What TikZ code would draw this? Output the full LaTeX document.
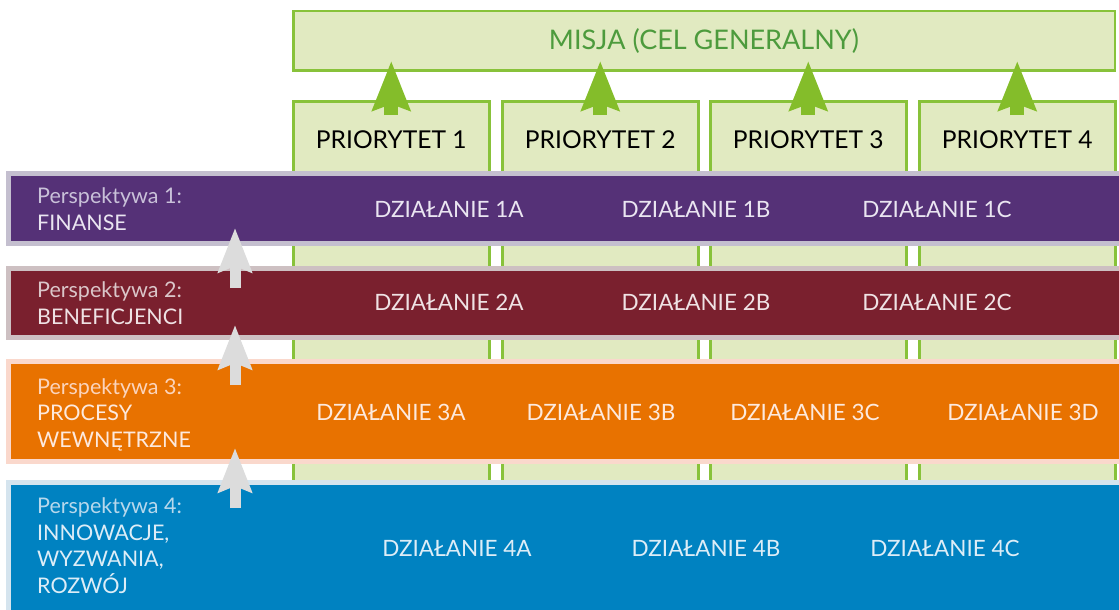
\documentclass[tikz,border=0pt]{standalone}
\usepackage{fontspec}
\setmainfont{Lato}
\usetikzlibrary{arrows.meta,calc}
\definecolor{tlokol}{HTML}{E1EAC1}
\definecolor{ramkakol}{HTML}{88C23A}
\definecolor{strzzielona}{HTML}{84BD2A}
\definecolor{tekstmisja}{HTML}{4D9B3D}
\definecolor{strzszara}{HTML}{DCDCDC}
\definecolor{fiolet}{HTML}{553177}
\definecolor{fioletramka}{HTML}{C4BFCF}
\definecolor{bordo}{HTML}{7A202E}
\definecolor{bordoramka}{HTML}{CDC0C2}
\definecolor{pomarancz}{HTML}{E87200}
\definecolor{pomaranczramka}{HTML}{FAD8CC}
\definecolor{niebieski}{HTML}{0082C1}
\definecolor{niebieskiramka}{HTML}{D5E4EE}
\definecolor{tfiolet}{HTML}{EAE5F1}
\definecolor{tfioletj}{HTML}{C9C1D9}
\definecolor{tbordo}{HTML}{EFE2E4}
\definecolor{tbordoj}{HTML}{DBC6C9}
\definecolor{tpomarancz}{HTML}{FDE9DD}
\definecolor{tpomaranczj}{HTML}{FBD4BC}
\definecolor{tniebieski}{HTML}{DDEDF7}
\definecolor{tniebieskij}{HTML}{B7D8EC}
\tikzset{
  font={\fontsize{22.5pt}{26pt}\selectfont},
  kolumna/.style={draw=ramkakol,line width=2.5pt,fill=tlokol,inner sep=0pt,anchor=north west},
  pas/.style={line width=5pt,inner sep=0pt,anchor=north west,minimum width=1130pt},
  strzalkaz/.style={draw=strzzielona,line width=14pt,-{Stealth[length=49pt,width=37pt,inset=6pt]}},
  strzalkas/.style={draw=strzszara,line width=11pt,-{Stealth[length=44pt,width=33pt,inset=6pt]}},
  priorytet/.style={anchor=base,font={\fontsize{24.6pt}{26pt}\selectfont}},
  dzialanie/.style={anchor=base},
  opis/.style={anchor=base west,align=left,inner sep=0pt,font={\fontsize{21.5pt}{26.5pt}\selectfont}}
}

\begin{document}
\begin{tikzpicture}[x=1pt,y=-1pt]
\useasboundingbox (0,0) rectangle (1119,610);
\clip (0,0) rectangle (1119,610);
\node[kolumna,text=tekstmisja,font={\fontsize{27pt}{30pt}\selectfont},minimum width=821.5pt,minimum height=59.5pt] (misja) at (292,10) {MISJA (CEL GENERALNY)};
\foreach \x/\n in {292/1,501/2,709/3,918/4} {
  \node[kolumna,minimum width=196pt,minimum height=520pt] (p\n) at (\x,100) {};
  \node[priorytet] (p\n t) at ($(p\n.north)+(0,48)$) {PRIORYTET \n};
  \draw[strzalkaz] ($(p\n.north)+(0,15)$) -- ($(p\n.north)+(0,-39)$);
}
\node[pas,draw=fioletramka,fill=fiolet,minimum height=70pt] (b1) at (6,171) {};
\node[pas,draw=bordoramka,fill=bordo,minimum height=69pt] (b2) at (6,266) {};
\node[pas,draw=pomaranczramka,fill=pomarancz,minimum height=100pt] (b3) at (6,359) {};
\node[pas,draw=niebieskiramka,fill=niebieski,minimum height=140pt] (b4) at (6,480) {};
\node[opis,text=tfioletj] (o1) at (37,230) {Perspektywa 1:\\\textcolor{tfiolet}{FINANSE}};
\node[opis,text=tbordoj] (o2) at (37,324) {Perspektywa 2:\\\textcolor{tbordo}{BENEFICJENCI}};
\node[opis,text=tpomaranczj] (o3) at (37,447) {Perspektywa 3:\\\textcolor{tpomarancz}{PROCESY}\\\textcolor{tpomarancz}{WEWNĘTRZNE}};
\node[opis,text=tniebieskij] (o4) at (37,593) {Perspektywa 4:\\\textcolor{tniebieski}{INNOWACJE,}\\\textcolor{tniebieski}{WYZWANIA,}\\\textcolor{tniebieski}{ROZWÓJ}};
\foreach \x/\n in {449/A,696/B,937/C}
  \node[dzialanie,text=tfiolet] (d1\n) at (\x,217) {DZIAŁANIE 1\n};
\foreach \x/\n in {449/A,696/B,937/C}
  \node[dzialanie,text=tbordo] (d2\n) at (\x,310) {DZIAŁANIE 2\n};
\foreach \x/\n in {391/A,601/B,805/C,1023/D}
  \node[dzialanie,text=tpomarancz] (d3\n) at (\x,420) {DZIAŁANIE 3\n};
\foreach \x/\n in {457/A,706/B,945/C}
  \node[dzialanie,text=tniebieski] (d4\n) at (\x,556) {DZIAŁANIE 4\n};
\draw[strzalkas] ($(b2.north west)+(229,22)$) -- ($(b1.north west)+(229,57)$);
\draw[strzalkas] ($(b3.north west)+(229,26)$) -- ($(b2.north west)+(229,59)$);
\draw[strzalkas] ($(b4.north west)+(229,28)$) -- ($(b3.north west)+(229,89)$);
\end{tikzpicture}
\end{document}
